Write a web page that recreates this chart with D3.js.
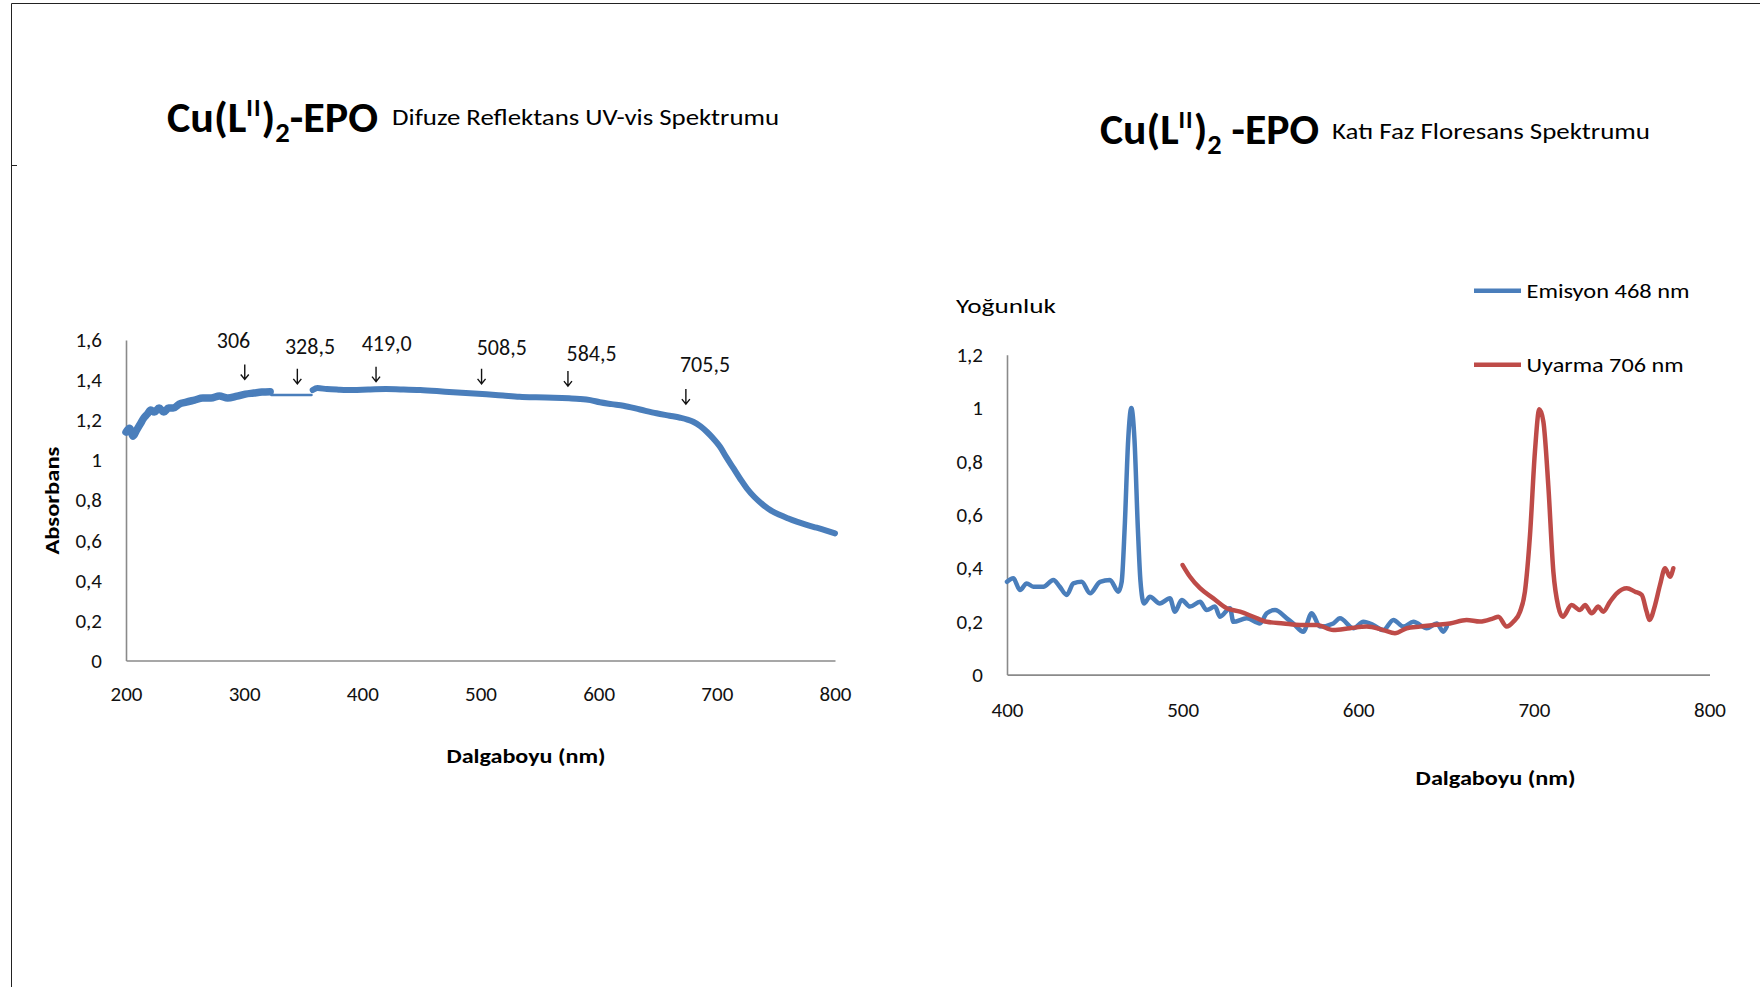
<!DOCTYPE html>
<html>
<head>
<meta charset="utf-8">
<script src="https://cdn.jsdelivr.net/npm/d3@7/dist/d3.min.js"></script>
<style>
  body { margin: 0; background: #fff; }
  svg { display: block; font-family: Carlito, Calibri, Lato, sans-serif; }
</style>
</head>
<body>
<script>
// --- veriler: difuz reflektans (sol grafik) ---
const uvTicksX = [200, 300, 400, 500, 600, 700, 800]
const uvTicksY = [0, 0.2, 0.4, 0.6, 0.8, 1, 1.2, 1.4, 1.6]

// gurultulu baslangic bolgesi
const uvNoisyNm = [200, 203, 206, 209, 212, 215, 218, 221, 224, 228, 232, 236, 240, 245, 251, 258, 265, 272, 279, 286, 294, 301, 308, 315, 322]
const uvNoisyAbs = [1.14, 1.16, 1.12, 1.15, 1.18, 1.21, 1.23, 1.25, 1.24, 1.26, 1.24, 1.26, 1.26, 1.28, 1.29, 1.30, 1.31, 1.31, 1.32, 1.31, 1.32, 1.33, 1.335, 1.34, 1.342]
// ince ara parca
const uvThinNm = [323, 357]
const uvThinAbs = [1.325, 1.325]
// ana egri
const uvNm = [358, 362, 370, 380, 392, 405, 420, 435, 449, 463, 477, 491, 505, 519, 533, 547, 562, 575, 584, 593, 601, 611, 621, 635, 649, 660, 669, 675, 680, 686, 691.5, 697, 702.7, 708, 714, 720, 725.3, 732, 739.4, 746, 753.5, 760, 767.6, 776, 784.5, 792, 800]
const uvAbs = [1.35, 1.36, 1.355, 1.352, 1.35, 1.353, 1.355, 1.353, 1.35, 1.345, 1.339, 1.334, 1.329, 1.323, 1.317, 1.314, 1.312, 1.309, 1.306, 1.30, 1.289, 1.28, 1.272, 1.253, 1.234, 1.222, 1.212, 1.203, 1.192, 1.17, 1.142, 1.108, 1.067, 1.015, 0.96, 0.905, 0.86, 0.815, 0.776, 0.748, 0.726, 0.71, 0.693, 0.677, 0.663, 0.65, 0.635]

// pik etiketleri ve oklar
const peakLabels = ['306', '328,5', '419,0', '508,5', '584,5', '705,5']
const peakLabelNm = [291, 355.7, 420.6, 518, 594, 690]
const peakLabelAbs = [1.558, 1.528, 1.545, 1.523, 1.495, 1.440]
const peakArrowNm = [300.5, 345, 411.6, 500.9, 574, 673.8]
const peakArrowAbs = [1.403, 1.381, 1.392, 1.381, 1.370, 1.280]

// --- veriler: kati faz floresans (sag grafik) ---
const flTicksX = [400, 500, 600, 700, 800]
const flTicksY = [0, 0.2, 0.4, 0.6, 0.8, 1, 1.2]

const emNm = [400, 403.6, 407.4, 411.2, 415, 420.7, 426.4, 430, 434, 437.8, 442.5, 447.3, 453, 458.6, 463.4, 465.3, 467, 469, 470.8, 472.6, 474.5, 476, 478, 481.4, 487, 492.8, 495.6, 499.5, 504.2, 509.9, 513.7, 518.4, 521.3, 527, 528.9, 536.5, 544, 547.9, 552.6, 559.3, 563, 568.7, 573.5, 578.2, 585.8, 589.6, 597.2, 602.9, 608.6, 614.3, 620, 625.7, 631.4, 639, 644.7, 648.4, 650.4]
const emVal = [0.348, 0.361, 0.317, 0.342, 0.330, 0.330, 0.355, 0.33, 0.299, 0.342, 0.348, 0.305, 0.348, 0.355, 0.311, 0.348, 0.55, 0.88, 1.0, 0.88, 0.55, 0.35, 0.267, 0.292, 0.267, 0.286, 0.236, 0.280, 0.255, 0.273, 0.242, 0.255, 0.217, 0.249, 0.198, 0.211, 0.192, 0.230, 0.242, 0.211, 0.192, 0.161, 0.230, 0.180, 0.192, 0.211, 0.174, 0.198, 0.186, 0.167, 0.205, 0.180, 0.198, 0.174, 0.192, 0.161, 0.180]

const exNm = [500, 504.2, 509.9, 517.5, 525.1, 532.7, 540.3, 547.9, 557.4, 566.9, 576.4, 585.8, 595.3, 604.8, 614.3, 620.9, 627.6, 635.2, 642.7, 652.2, 661.7, 669.3, 676.9, 679.8, 684.5, 688.3, 692.1, 694.9, 697.8, 700.6, 703.1, 705.4, 708.2, 711.1, 713.9, 716.4, 721.5, 726.3, 729.1, 732.9, 736.7, 739.5, 743.3, 747.2, 752.9, 757.6, 761.4, 764.2, 765.8, 769, 771.8, 774.7, 777.5, 779.4]
const exVal = [0.411, 0.367, 0.324, 0.286, 0.249, 0.236, 0.217, 0.198, 0.192, 0.186, 0.186, 0.167, 0.174, 0.180, 0.167, 0.155, 0.174, 0.180, 0.186, 0.192, 0.205, 0.199, 0.211, 0.217, 0.180, 0.198, 0.236, 0.311, 0.524, 0.836, 0.995, 0.949, 0.711, 0.386, 0.255, 0.217, 0.261, 0.242, 0.261, 0.230, 0.255, 0.236, 0.273, 0.305, 0.324, 0.311, 0.299, 0.236, 0.205, 0.261, 0.336, 0.399, 0.367, 0.399]

const legendNames = ['Emisyon 468 nm', 'Uyarma 706 nm']
const blue = '#4a7ebb'
const red = '#be4b48'

const largura = 1760
const altura = 987

var svg = d3.select('body').append('svg').attr('width', largura).attr('height', altura)

// sayfa cercevesi
svg.append('path').attr('d', 'M11.5,' + altura + 'V3.5H' + largura + 'M11.5,165.5H17')
   .attr('fill', 'none').attr('stroke', '#222').attr('stroke-width', 1)

var virgul = function (d) { return String(d).replace('.', ',') }

function baslik(x, y, ayrac, genislik) {
  var t = svg.append('text').attr('x', x).attr('y', y)
     .style('font-weight', 'bold').style('font-size', '43px').attr('fill', '#000')
     .attr('textLength', genislik).attr('lengthAdjust', 'spacingAndGlyphs')
  t.append('tspan').text('Cu(L')
  t.append('tspan').attr('dy', -16).style('font-size', '24px').style('letter-spacing', '1px').text('II')
  t.append('tspan').attr('dy', 16).text(')')
  t.append('tspan').attr('dy', 10).style('font-size', '28px').text('2')
  t.append('tspan').attr('dy', -10).text(ayrac + 'EPO')
}

function eksenCiz(g, eksen) {
  g.call(eksen)
  g.select('.domain').attr('stroke', '#8a8a8a').attr('stroke-width', 1.6)
  g.selectAll('text').style('font-size', '21px').style('font-family', 'Carlito, Calibri, Lato, sans-serif').attr('fill', '#111')
}

function seri(g, x, y, nm, val, renk, kalinlik) {
  var veri = nm.map(function (d, i) { return {nm: d, v: val[i]} })
  var cizgi = d3.line().x(function (d) { return x(d.nm) }).y(function (d) { return y(d.v) }).curve(d3.curveMonotoneX)
  g.append('path').attr('d', cizgi(veri)).attr('fill', 'none').attr('stroke', renk)
   .attr('stroke-width', kalinlik).attr('stroke-linejoin', 'round').attr('stroke-linecap', 'round')
}

// ---------------- sol grafik ----------------
var xSol = d3.scaleLinear().domain([200, 800]).range([126, 835])
var ySol = d3.scaleLinear().domain([0, 1.6]).range([660.5, 340])

baslik(167, 132, '-', 211)
svg.append('text').attr('x', 392).attr('y', 125).style('font-size', '22px')
   .attr('textLength', 387).attr('lengthAdjust', 'spacingAndGlyphs').text('Difuze Reflektans UV-vis Spektrumu')

eksenCiz(svg.append('g').attr('transform', 'translate(0,660.5)'),
  d3.axisBottom(xSol).tickValues(uvTicksX).tickSize(0).tickPadding(26).tickFormat(virgul))
eksenCiz(svg.append('g').attr('transform', 'translate(126,0)'),
  d3.axisLeft(ySol).tickValues(uvTicksY).tickSize(0).tickPadding(24).tickFormat(virgul))

seri(svg, xSol, ySol, uvNoisyNm, uvNoisyAbs, blue, 7.5)
seri(svg, xSol, ySol, uvThinNm, uvThinAbs, blue, 2.5)
seri(svg, xSol, ySol, uvNm, uvAbs, blue, 6)

peakLabels.forEach(function (lbl, i) {
  svg.append('text').attr('x', xSol(peakLabelNm[i])).attr('y', ySol(peakLabelAbs[i]))
     .attr('text-anchor', 'middle').style('font-size', '22px').attr('fill', '#111').text(lbl)
  var ax = xSol(peakArrowNm[i]), ay = ySol(peakArrowAbs[i])
  svg.append('path').attr('d', 'M' + ax + ',' + (ay - 15) + 'V' + ay + 'M' + (ax - 4) + ',' + (ay - 5) + 'L' + ax + ',' + ay + 'L' + (ax + 4) + ',' + (ay - 5))
     .attr('fill', 'none').attr('stroke', '#111').attr('stroke-width', 1.4)
})

svg.append('text').attr('x', 526).attr('y', 763).attr('text-anchor', 'middle')
   .style('font-size', '20px').style('font-weight', 'bold').attr('textLength', 159).attr('lengthAdjust', 'spacingAndGlyphs')
   .text('Dalgaboyu  (nm)')
svg.append('text').attr('transform', 'translate(59,500.6) rotate(-90)').attr('text-anchor', 'middle')
   .style('font-size', '20px').style('font-weight', 'bold').attr('textLength', 108).attr('lengthAdjust', 'spacingAndGlyphs')
   .text('Absorbans')

// ---------------- sag grafik ----------------
var xSag = d3.scaleLinear().domain([400, 800]).range([1007, 1709.5])
var ySag = d3.scaleLinear().domain([0, 1.2]).range([674.6, 354.7])

baslik(1100, 143.6, ' -', 219)
svg.append('text').attr('x', 1332).attr('y', 138.5).style('font-size', '22px')
   .attr('textLength', 318).attr('lengthAdjust', 'spacingAndGlyphs').text('Katı Faz Floresans Spektrumu')

eksenCiz(svg.append('g').attr('transform', 'translate(0,674.6)'),
  d3.axisBottom(xSag).tickValues(flTicksX).tickSize(0).tickPadding(27).tickFormat(virgul))
eksenCiz(svg.append('g').attr('transform', 'translate(1007,0)'),
  d3.axisLeft(ySag).tickValues(flTicksY).tickSize(0).tickPadding(24).tickFormat(virgul))

seri(svg, xSag, ySag, emNm, emVal, blue, 4.5)
seri(svg, xSag, ySag, exNm, exVal, red, 4.5)

svg.append('text').attr('x', 956).attr('y', 313).style('font-size', '21px')
   .attr('textLength', 100).attr('lengthAdjust', 'spacingAndGlyphs').text('Yoğunluk')

svg.append('text').attr('x', 1495.6).attr('y', 785).attr('text-anchor', 'middle')
   .style('font-size', '20px').style('font-weight', 'bold').attr('textLength', 160).attr('lengthAdjust', 'spacingAndGlyphs')
   .text('Dalgaboyu  (nm)')

// lejant
var lejant = svg.append('g')
legendNames.forEach(function (ad, i) {
  var ly = 290.7 + i * 74
  lejant.append('line').attr('x1', 1474).attr('x2', 1521).attr('y1', ly).attr('y2', ly)
    .attr('stroke', i === 0 ? blue : red).attr('stroke-width', 4.5)
  lejant.append('text').attr('x', 1526.5).attr('y', ly + 7).style('font-size', '21px')
    .attr('textLength', i === 0 ? 163 : 157).attr('lengthAdjust', 'spacingAndGlyphs').text(ad)
})
</script>
</body>
</html>
